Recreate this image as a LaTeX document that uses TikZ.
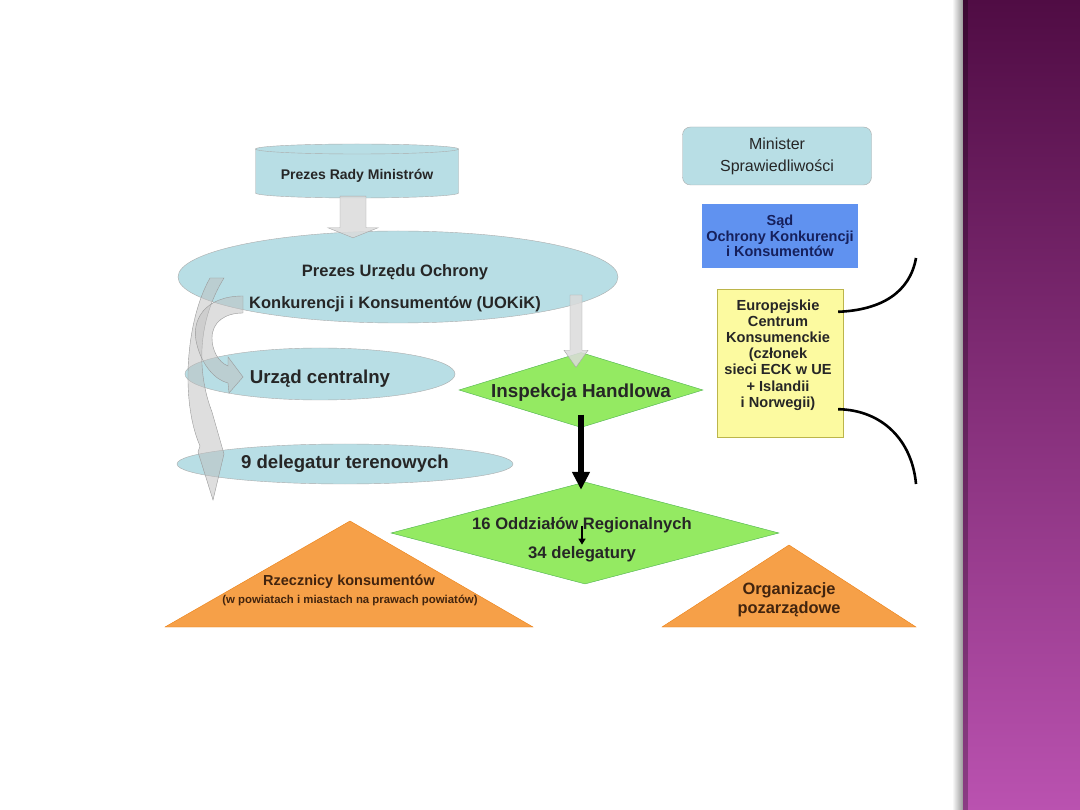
\documentclass[tikz,border=0pt]{standalone}
\usepackage{fontspec}
\setmainfont{Liberation Sans}
\usetikzlibrary{shapes.geometric,arrows.meta,calc}
\definecolor{lagoon}{RGB}{184,222,229}
\definecolor{leaf}{RGB}{148,234,98}
\definecolor{apricot}{RGB}{246,160,72}
\definecolor{cornflower}{RGB}{96,146,240}
\definecolor{butter}{RGB}{252,250,160}
\definecolor{navyink}{RGB}{22,32,92}
\definecolor{umber}{RGB}{66,36,14}
\definecolor{plumtop}{RGB}{80,12,68}
\definecolor{plummid}{RGB}{138,52,126}
\definecolor{plumbot}{RGB}{186,82,176}
\newcommand\fsz[2]{\fontsize{#1}{#2}\selectfont}
\newcommand\vbarrow[5]{\path[draw=gray!70,fill=gray!28,fill opacity=.85]let\p1=#1,\p2=#2 in(\x1-#3,\y1)--(\x1+#3,\y1)--(\x1+#3,\y2+#5)--(\x1+#4,\y2+#5)--(\x1,\y2)--(\x1-#4,\y2+#5)--(\x1-#3,\y2+#5)--cycle;}
\begin{document}
\begin{tikzpicture}[x=1pt,y=-1pt,text=black!85,font=\bfseries,
  oval/.style={ellipse,draw=gray!65,fill=lagoon,inner sep=0pt},
  rhomb/.style={diamond,draw=gray!60!green,fill=leaf,inner sep=0pt},
  swoop/.style={draw=gray!80,fill=gray!50,fill opacity=.5},
  wedge/.style={draw=orange!70!brown,fill=apricot}]
\useasboundingbox[fill=white](0,0)rectangle(1080,810);
\shade[left color=white,right color=black!40](952,0)rectangle(963,810);
\shade[top color=plumtop,middle color=plummid,bottom color=plumbot](963,0)rectangle(1080,810);
\fill[black,opacity=.25](963,0)rectangle(968,810);
\filldraw[draw=gray!65,fill=lagoon](255.5,149)--(255.5,193)arc[start angle=180,end angle=0,x radius=101.5,y radius=5]--(458.5,149)arc[start angle=0,end angle=-180,x radius=101.5,y radius=5]--cycle;
\draw[gray!65](255.5,149)arc[start angle=180,end angle=0,x radius=101.5,y radius=5];
\node[minimum width=203,minimum height=44,inner sep=0pt,font=\bfseries\fsz{14}{16}](prm)at(357,176){Prezes Rady Ministrów};
\node[oval,minimum width=440,minimum height=92](uok)at(398,277){};
\node[align=center,font=\bfseries\fsz{16.5}{32}](uokt)at(395,288){Prezes Urzędu Ochrony\\Konkurencji i Konsumentów (UOKiK)};
\node[oval,minimum width=270,minimum height=52,text height=19pt,text depth=0pt,font=\bfseries\fsz{18.7}{22}](urc)at(320,374){Urząd centralny};
\node[oval,minimum width=336,minimum height=40,font=\bfseries\fsz{18.6}{22}](del)at(345,464){9 delegatur terenowych};
\node[rhomb,aspect=3.25,minimum width=244,minimum height=75,text height=15pt,text depth=0pt,font=\bfseries\fsz{18.8}{22}](ih)at(581,390){Inspekcja Handlowa};
\node[rhomb,aspect=3.8,minimum width=388,minimum height=102](ro)at(585,533){};
\node[font=\bfseries\fsz{16.6}{20}](ro1)at(582,525){16 Oddziałów Regionalnych};
\node[font=\bfseries\fsz{16.7}{20}](ro2)at(582,554){34 delegatury};
\filldraw[wedge](350,521)--(533,627)--(165,627)--cycle;
\filldraw[wedge](789,545)--(916,627)--(662,627)--cycle;
\node[text=umber,font=\bfseries\fsz{14.5}{16}](rz1)at(349,582){Rzecznicy konsumentów};
\node[text=umber,font=\bfseries\fsz{11.4}{14}](rz2)at(350,601){(w powiatach i miastach na prawach powiatów)};
\node[text=umber,align=center,font=\bfseries\fsz{16.4}{18.5}](org)at(789,600){Organizacje\\pozarządowe};
\node[draw=gray!65,fill=lagoon,rounded corners=8,minimum width=189,minimum height=58,align=center,font=\mdseries\fsz{16}{22}](ms)at(777,156){Minister\\Sprawiedliwości};
\node[fill=cornflower,minimum width=156,minimum height=64,align=center,text=navyink,font=\bfseries\fsz{14.5}{15.5}](sok)at(780,236){Sąd\\Ochrony Konkurencji\\i Konsumentów};
\node[draw=olive!60,fill=butter,minimum width=126,minimum height=148](eck)at(780,363){};
\node[align=center,font=\bfseries\fsz{14.6}{16.2}](eckt)at(778,355){Europejskie\\Centrum\\Konsumenckie\\(członek\\sieci ECK w UE\\+ Islandii\\i Norwegii)};
\vbarrow{($(prm.south)+(-4,-2)$)}{($(uok.north)+(0,7)$)}{13pt}{25pt}{10pt}
\vbarrow{($(uok.center)+(178,18)$)}{($(ih.north)+(0,15)$)}{6pt}{12pt}{17pt}
\draw[line width=6pt,-{Triangle[length=18pt,width=17pt]}]($(ih.south)+(0,-13)$)--($(ih.south|-ro.north)+(0,8)$);
\draw[line width=1.8pt,-{Triangle[length=6pt,width=7pt]}]($(ro1.south)+(0,-10)$)--($(ro2.north)+(0,2)$);
\filldraw[swoop](210,278)..controls(186,320)and(180,400)..(200,446)--(198,452)--(213,500)--(224,454)--(212,412)..controls(196,370)and(198,320)..(224,278)--cycle;
\filldraw[swoop](243,296)..controls(205,296)and(190,320)..(197,345)..controls(202,365)and(215,380)..(228,383)--(229,393)--(243,377)--(228,357)--(228,366)..controls(218,362)and(212,350)..(212,338)..controls(212,322)and(225,313)..(243,313)--cycle;
\coordinate(ne)at(916,258);
\coordinate(se)at(916,484);
\draw[line width=2.6pt]($(eck.north east)+(-5,23)$)..controls(882,310)and(910,292)..(ne);
\draw[line width=2.6pt]($(eck.south east)+(-5,-28)$)..controls(882,410)and(912,440)..(se);
\end{tikzpicture}
\end{document}
